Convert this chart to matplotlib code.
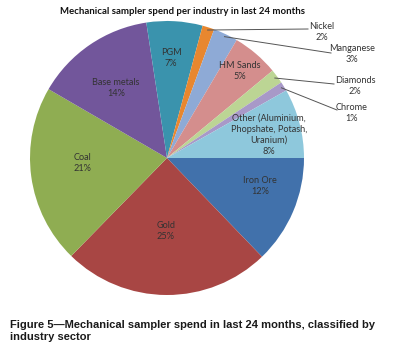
import numpy as np
import matplotlib.pyplot as plt
from matplotlib import font_manager

# slices, clockwise starting at 3 o'clock
industries = ['Iron Ore', 'Gold', 'Coal', 'Base metals', 'PGM', 'Nickel',
              'Manganese', 'HM Sands', 'Diamonds', 'Chrome',
              'Other (Aluminium,\nPhopshate, Potash,\nUranium)']
shares = [12.8, 24.5, 21.05, 14.2, 6.6, 1.4, 2.9, 5.5, 1.7, 1.1, 8.2]
pct_labels = ['12%', '25%', '21%', '14%', '7%', '2%', '3%', '5%', '2%', '1%', '8%']
colors = ['#4171ab', '#a84644', '#8fad52', '#72569b', '#3a93ad', '#e8872f',
          '#8eaad6', '#d48e8d', '#bcd594', '#a899c8', '#8ec8dc']

title = 'Mechanical sampler spend per industry in last 24 months'
caption = ('Figure 5\u2014Mechanical sampler spend in last 24 months, classified by\n'
           'industry sector')

# label placement (pixel coords of the 401x360 picture)
inside_pos = {0: (260, 186), 1: (166, 231), 2: (82, 163), 3: (116, 88),
              4: (171, 58), 7: (240, 71), 10: (269, 135)}
outside_pos = {5: (322, 32), 6: (352, 54), 8: (355, 86), 9: (352, 113)}
leader_end = {5: (308, 29), 6: (331, 53), 8: (334, 84), 9: (337, 110)}

available = {f.name for f in font_manager.fontManager.ttflist}
label_font = 'Lato' if 'Lato' in available else 'DejaVu Sans'
if 'Liberation Sans Narrow' in available:
    cap_font, cap_size = 'Liberation Sans Narrow', 9.6
else:
    cap_font, cap_size = 'Liberation Sans', 8.0

W, H = 401, 360
cx, cy, R = 167, 158, 137

fig = plt.figure(figsize=(W / 100, H / 100), dpi=100)
fig.patch.set_facecolor('white')
ax = fig.add_axes([(cx - R) / W, (H - cy - R) / H, 2 * R / W, 2 * R / H])

wedges, _ = ax.pie(shares, colors=colors, startangle=0, counterclock=False,
                   radius=1, wedgeprops=dict(linewidth=0))
ax.set_xlim(-1, 1)
ax.set_ylim(-1, 1)
ax.axis('off')


def to_data(p):
    return (p[0] - cx) / R, (cy - p[1]) / R


txt_kw = dict(ha='center', va='center', fontsize=6.6, color='#333333',
              family=label_font, linespacing=1.3)

for i, pos in inside_pos.items():
    x, y = to_data(pos)
    ax.text(x, y, industries[i] + '\n' + pct_labels[i], **txt_kw)

for i, pos in outside_pos.items():
    x, y = to_data(pos)
    ax.text(x, y, industries[i] + '\n' + pct_labels[i], **txt_kw)
    w = wedges[i]
    mid = np.deg2rad((w.theta1 + w.theta2) / 2)
    sx, sy = 0.98 * np.cos(mid), 0.98 * np.sin(mid)
    ex, ey = to_data(leader_end[i])
    ax.plot([sx, ex], [sy, ey], color='#555555', lw=0.7, clip_on=False)

fig.text(182 / W, 1 - 12 / H, title, ha='center', va='center', fontsize=6.9,
         fontweight='bold', family=label_font, color='#111111')

fig.text(10 / W, 1 - 320 / H, caption, ha='left', va='top', fontsize=cap_size,
         fontweight='bold', family=cap_font, color='#1a1a1a', linespacing=1.2)

fig.savefig('out.png', dpi=100, facecolor='white')
